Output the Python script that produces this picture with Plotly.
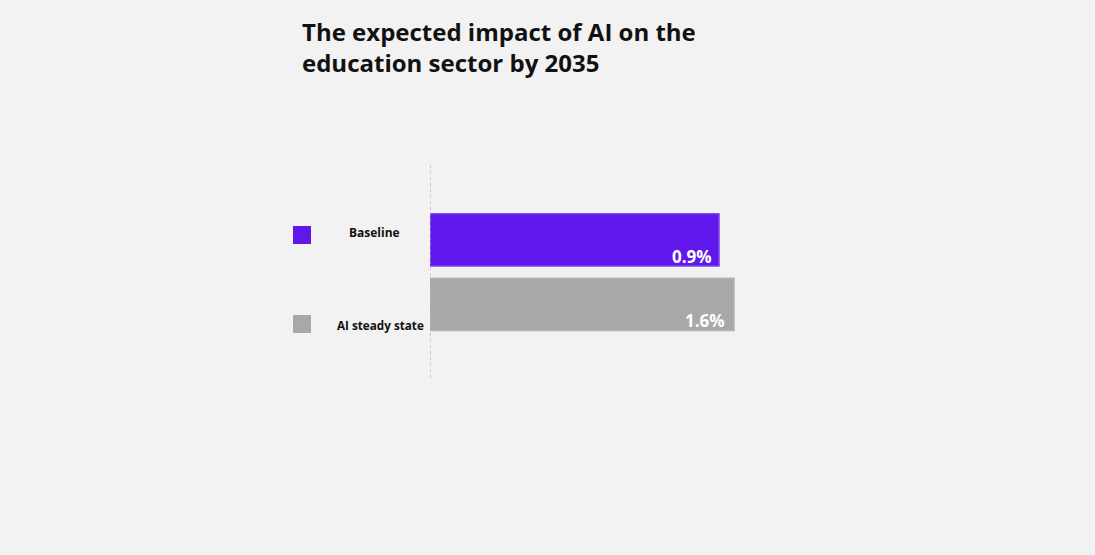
import plotly.graph_objects as go

# ---- data ----
categories = ["Baseline", "AI steady state"]
values = [0.9, 1.6]
value_labels = ["0.9%", "1.6%"]
bar_colors = ["#5F17EB", "#A8A8A8"]
edge_colors = ["#7A44F0", "#B3B3B3"]
title_lines = ["The expected impact of AI on the", "education sector by 2035"]

# axis geometry (style, not data)
axis_origin = -12.6
axis_max = 2.814

W, H = 1095, 555
L, R, T, B = 430, 335, 164, 177
PW = W - L - R

def px_to_paper_x(px):
    return (px - L) / PW

fig = go.Figure()
fig.add_trace(go.Bar(
    y=categories,
    x=[v - axis_origin for v in values],
    base=axis_origin,
    orientation="h",
    width=0.81,
    marker=dict(color=bar_colors, line=dict(color=edge_colors, width=1.5)),
    hoverinfo="skip",
    showlegend=False,
))

annotations = []
# value labels inside bars (bottom-right)
for cat, v, lab, ys, xs in zip(categories, values, value_labels, [-17, -16.5], [-5, -7]):
    annotations.append(dict(
        x=v, y=cat, xref="x", yref="y", text=lab, showarrow=False,
        xanchor="right", yanchor="middle", xshift=xs, yshift=ys,
        font=dict(family="Open Sans", size=17, color="white", weight="bold"),
    ))
# category labels
annotations.append(dict(
    x=px_to_paper_x(374), y=categories[0], xref="paper", yref="y",
    text=categories[0], showarrow=False, xanchor="center", yanchor="middle",
    yshift=7, font=dict(family="Open Sans", size=12, color="#111111", weight="bold"),
))
annotations.append(dict(
    x=px_to_paper_x(426), y=categories[1], xref="paper", yref="y",
    text=categories[1], showarrow=False, xanchor="right", yanchor="middle",
    yshift=-21, font=dict(family="Open Sans", size=11.7, color="#111111", weight="bold"),
))

shapes = []
# legend squares
for cat, col, ys in zip(categories, bar_colors, [5, -19.5]):
    shapes.append(dict(
        type="rect", xref="paper", yref="y",
        xsizemode="pixel", ysizemode="pixel",
        xanchor=px_to_paper_x(302), yanchor=cat,
        x0=-9, x1=9, y0=ys - 9, y1=ys + 9,
        fillcolor=col, line=dict(width=0),
    ))
# dotted axis line
shapes.append(dict(
    type="line", xref="x", yref="paper", x0=axis_origin, x1=axis_origin,
    y0=0, y1=1, line=dict(color="#A0A0A0", width=1, dash="dot"),
))

fig.update_layout(
    width=W, height=H,
    margin=dict(l=L, r=R, t=T, b=B),
    paper_bgcolor="#F2F2F2", plot_bgcolor="#F2F2F2",
    title=dict(
        text="<br>".join(title_lines),
        x=302 / W, xanchor="left", xref="container",
        y=1 - 41 / H, yanchor="top", yref="container",
        font=dict(family="Open Sans", size=24, color="#111111", weight="bold"),
    ),
    xaxis=dict(range=[axis_origin, axis_max], visible=False, fixedrange=True),
    yaxis=dict(range=[2.14, -1.178], visible=False, fixedrange=True,
               categoryorder="array", categoryarray=categories),
    annotations=annotations,
    shapes=shapes,
    bargap=0.2,
)

fig.write_html(
    "out.html",
    config={"displayModeBar": False},
    post_script="document.body.style.margin='0';document.body.style.background='#F2F2F2';",
)
